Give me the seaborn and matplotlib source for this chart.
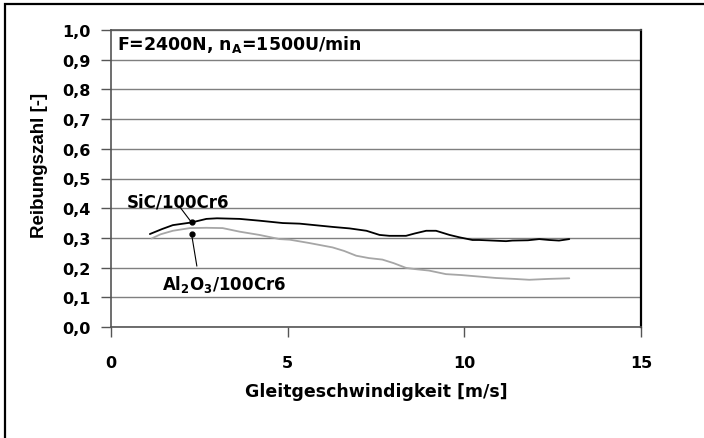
import matplotlib
matplotlib.use("Agg")
import matplotlib.pyplot as plt
import seaborn as sns
import pandas as pd
from matplotlib.patches import Rectangle

# Data
sic_x = [1.1, 1.45, 1.75, 2.28, 2.7, 3.0, 3.64, 4.2, 4.86, 5.34, 6.27, 6.75, 7.23, 7.6,
         7.88, 8.35, 8.6, 8.92, 9.2, 9.58, 9.86, 10.23, 10.42, 11.18, 11.36, 11.8, 12.12,
         12.4, 12.68, 12.97]
sic_y = [0.313, 0.33, 0.343, 0.352, 0.364, 0.366, 0.364, 0.358, 0.35, 0.348, 0.337, 0.332,
         0.324, 0.31, 0.307, 0.307, 0.315, 0.324, 0.324, 0.31, 0.302, 0.293, 0.293, 0.289,
         0.291, 0.292, 0.296, 0.293, 0.291, 0.296]

al_x = [1.15, 1.4, 1.75, 2.23, 2.7, 3.16, 3.64, 4.2, 4.77, 5.06, 5.6, 6.27, 6.6, 6.94,
        7.3, 7.68, 8.0, 8.35, 8.6, 9.0, 9.48, 9.9, 10.4, 10.9, 11.4, 11.84, 12.4, 12.97]
al_y = [0.298, 0.312, 0.324, 0.333, 0.334, 0.333, 0.321, 0.31, 0.296, 0.294, 0.283, 0.268,
        0.256, 0.24, 0.232, 0.227, 0.215, 0.199, 0.195, 0.19, 0.178, 0.175, 0.17, 0.165,
        0.162, 0.159, 0.162, 0.164]

x_ticks = [0, 5, 10, 15]
y_ticks = [0.0, 0.1, 0.2, 0.3, 0.4, 0.5, 0.6, 0.7, 0.8, 0.9, 1.0]
y_ticklabels = ["0,0", "0,1", "0,2", "0,3", "0,4", "0,5", "0,6", "0,7", "0,8", "0,9", "1,0"]

sic_label = "SiC/100Cr6"
al_label = "Al$_2$O$_3$/100Cr6"
title_text = "F=2400N, n$_A$=1500U/min"

sns.set_style("white")
plt.rcParams['font.family'] = ['DejaVu Sans']
plt.rcParams['font.weight'] = 'bold'
plt.rcParams['text.color'] = 'black'
plt.rcParams['axes.labelcolor'] = 'black'
plt.rcParams['xtick.color'] = 'black'
plt.rcParams['ytick.color'] = 'black'
plt.rcParams['mathtext.fontset'] = 'custom'
plt.rcParams['mathtext.rm'] = 'DejaVu Sans:bold'
plt.rcParams['mathtext.it'] = 'DejaVu Sans:bold'
plt.rcParams['mathtext.bf'] = 'DejaVu Sans:bold'

fig = plt.figure(figsize=(7.04, 4.39), dpi=100)
ax = fig.add_axes([111/704, 1 - 328/439, 530/704, 297/439])

# outer frame (top & left visible)
fig.patches.append(Rectangle((5/704, -0.1), 1.2, (439-5)/439 + 0.1, transform=fig.transFigure,
                             fill=False, edgecolor='black', linewidth=1.6, clip_on=False))

df_sic = pd.DataFrame({"x": sic_x, "y": sic_y})
df_al = pd.DataFrame({"x": al_x, "y": al_y})
sns.lineplot(data=df_al, x="x", y="y", ax=ax, color="#a6a6a6", linewidth=1.3,
             sort=False, estimator=None)
sns.lineplot(data=df_sic, x="x", y="y", ax=ax, color="black", linewidth=1.3,
             sort=False, estimator=None)

ax.set_xlim(0, 15)
ax.set_ylim(0, 1.0)
ax.set_xticks(x_ticks)
ax.set_yticks(y_ticks)
ax.set_yticklabels(y_ticklabels)
ax.grid(axis='y', color='#7f7f7f', linewidth=1.0)
ax.set_axisbelow(True)
for s in ['top', 'right', 'left', 'bottom']:
    ax.spines[s].set_visible(True)
    ax.spines[s].set_color('#555555')
    ax.spines[s].set_linewidth(1.2)
ax.spines['right'].set_color('black')
ax.spines['right'].set_linewidth(1.6)
ax.tick_params(axis='both', which='major', direction='out', length=7, width=1,
               color='#555555', labelcolor='black', labelsize=11.5, bottom=True, left=True)
ax.tick_params(axis='x', pad=13)
ax.tick_params(axis='y', pad=8)

ax.set_xlabel("Gleitgeschwindigkeit [m/s]", fontsize=12.5, fontweight='bold', labelpad=9)
ax.set_ylabel("Reibungszahl [-]", fontsize=13.5, fontweight='bold',
              family='Liberation Sans', va='center')
ax.yaxis.set_label_coords(-0.134, 0.549)

ax.text(0.012, 0.955, title_text, transform=ax.transAxes, fontsize=12.5,
        fontweight='bold', ha='left', va='center')

# annotations: leader lines and dots
ax.plot([1.95, 2.28], [0.404, 0.352], color='black', linewidth=0.8)
ax.plot([2.28, 2.43], [0.313, 0.205], color='black', linewidth=0.8)
ax.plot([2.28], [0.352], 'o', color='black', markersize=3.5)
ax.plot([2.28], [0.313], 'o', color='black', markersize=3.5)
ax.text(1.9, 0.424, sic_label, fontsize=12, fontweight='bold', ha='center', va='center')
ax.text(3.2, 0.145, al_label, fontsize=12, fontweight='bold', ha='center', va='center')

fig.savefig("out.png", dpi=100)
